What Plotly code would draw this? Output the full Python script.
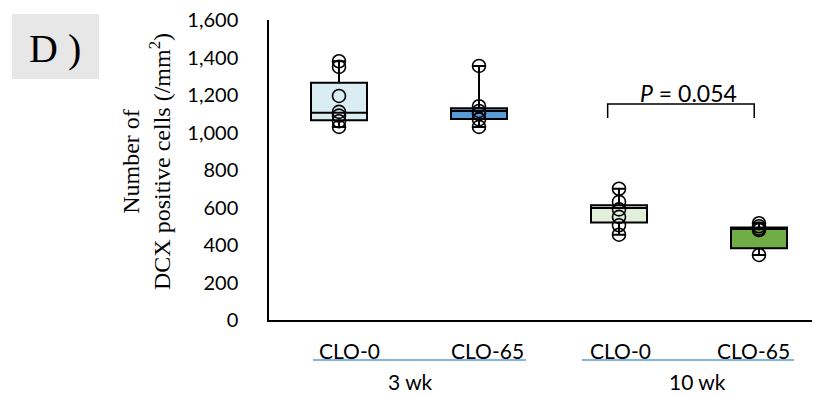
import plotly.graph_objects as go

# ---- data ----
categories = ["CLO-0", "CLO-65", "CLO-0", "CLO-65"]
groups = ["3 wk", "10 wk"]
q1 = [1065, 1072, 520, 383]
median = [1105, 1115, 597, 486]
q3 = [1265, 1130, 612, 493]
lowerfence = [1030, 1030, 455, 347]
upperfence = [1380, 1355, 700, 516]
points = [
    [1380, 1350, 1195, 1110, 1090, 1060, 1030],
    [1355, 1140, 1115, 1100, 1070, 1030],
    [700, 630, 590, 550, 505, 455],
    [516, 500, 488, 480, 347],
]
fills = ["#DAEDF3", "#5B9BD5", "#E2EFDA", "#70AD47"]
p_text = "<i>P</i> = 0.054"
y_ticks = [0, 200, 400, 600, 800, 1000, 1200, 1400, 1600]

# ---- layout geometry (page has an 8px body margin) ----
OFF = 8
W, H = 820, 396
L, R, T, B = 261, 0, 12, 84
PW, PH = W - L - R, H - T - B
XR = [-0.5, -0.5 + PW / 140.0]

def wx(px):  # window pixel x -> paper
    return (px - OFF - L) / PW

def wy(py):  # window pixel y -> paper
    return (H - B - (py - OFF)) / PH

fig = go.Figure()
for i in range(4):
    fig.add_trace(go.Box(
        x=[i], q1=[q1[i]], median=[median[i]], q3=[q3[i]],
        lowerfence=[lowerfence[i]], upperfence=[upperfence[i]],
        width=0.4, whiskerwidth=0.25, fillcolor=fills[i],
        line=dict(color="black", width=2), boxpoints=False,
        showlegend=False, hoverinfo="skip",
    ))
for i in range(4):
    fig.add_trace(go.Scatter(
        x=[i] * len(points[i]), y=points[i], mode="markers",
        marker=dict(symbol="circle-open", size=13, color="black",
                    line=dict(width=1.6, color="black")),
        showlegend=False, hoverinfo="skip",
    ))

shapes = []
annotations = []
# significance bracket (data coords)
shapes.append(dict(type="path", xref="x", yref="y",
                   path="M 1.919 1077 L 1.919 1152 L 2.966 1152 L 2.966 1077",
                   line=dict(color="black", width=1.5)))
annotations.append(dict(x=2.493, y=1212, xref="x", yref="y", text=p_text,
                        xanchor="center", yanchor="middle",
                        showarrow=False, font=dict(family="Lato", size=23, color="black")))

# category labels
cat_px = [349, 487, 620.5, 753]
for c, p in zip(categories, cat_px):
    annotations.append(dict(x=wx(p), y=wy(350), xref="paper", yref="paper", text=c,
                            xanchor="center", yanchor="middle",
                            showarrow=False, font=dict(family="Lato", size=21, color="black")))
# group underlines
for a, b in [(313, 526), (582, 794)]:
    shapes.append(dict(type="line", xref="paper", yref="paper",
                       x0=wx(a), x1=wx(b), y0=wy(360), y1=wy(360),
                       line=dict(color="#5B9BD5", width=1.5)))
for g, p in zip(groups, [410, 697]):
    annotations.append(dict(x=wx(p), y=wy(382), xref="paper", yref="paper", text=g,
                            xanchor="center", yanchor="middle",
                            showarrow=False, font=dict(family="Lato", size=21, color="black")))

# y-axis title
annotations.append(dict(x=wx(146), y=wy(162), xref="paper", yref="paper",
                        text="Number of<br>DCX positive cells (/mm<sup>2</sup>)", textangle=-90,
                        xanchor="center", yanchor="middle",
                        showarrow=False, font=dict(family="Liberation Serif", size=24, color="black")))

# panel label
shapes.append(dict(type="rect", xref="paper", yref="paper",
                   x0=wx(12), x1=wx(99), y0=wy(79), y1=wy(14),
                   fillcolor="#E7E7E7", line=dict(width=0), layer="below"))
annotations.append(dict(x=wx(55), y=wy(48), xref="paper", yref="paper", text="D )",
                        xanchor="center", yanchor="middle",
                        showarrow=False, font=dict(family="Liberation Serif", size=40, color="black")))

fig.update_layout(
    width=W, height=H, margin=dict(l=L, r=R, t=T, b=B, autoexpand=False),
    paper_bgcolor="white", plot_bgcolor="white",
    boxmode="overlay", shapes=shapes, annotations=annotations,
    xaxis=dict(range=XR, showgrid=False, zeroline=False, showticklabels=False,
               showline=True, linecolor="black", linewidth=1.5, ticks=""),
    yaxis=dict(range=[0, 1600], tickvals=y_ticks, tickformat=",d", showgrid=False,
               zeroline=False, showline=True, linecolor="black", linewidth=1.5,
               ticks="", ticklabelstandoff=25, ticklabeloverflow="allow",
               tickfont=dict(family="Lato", size=20, color="black")),
)
fig.write_html("out.html")
